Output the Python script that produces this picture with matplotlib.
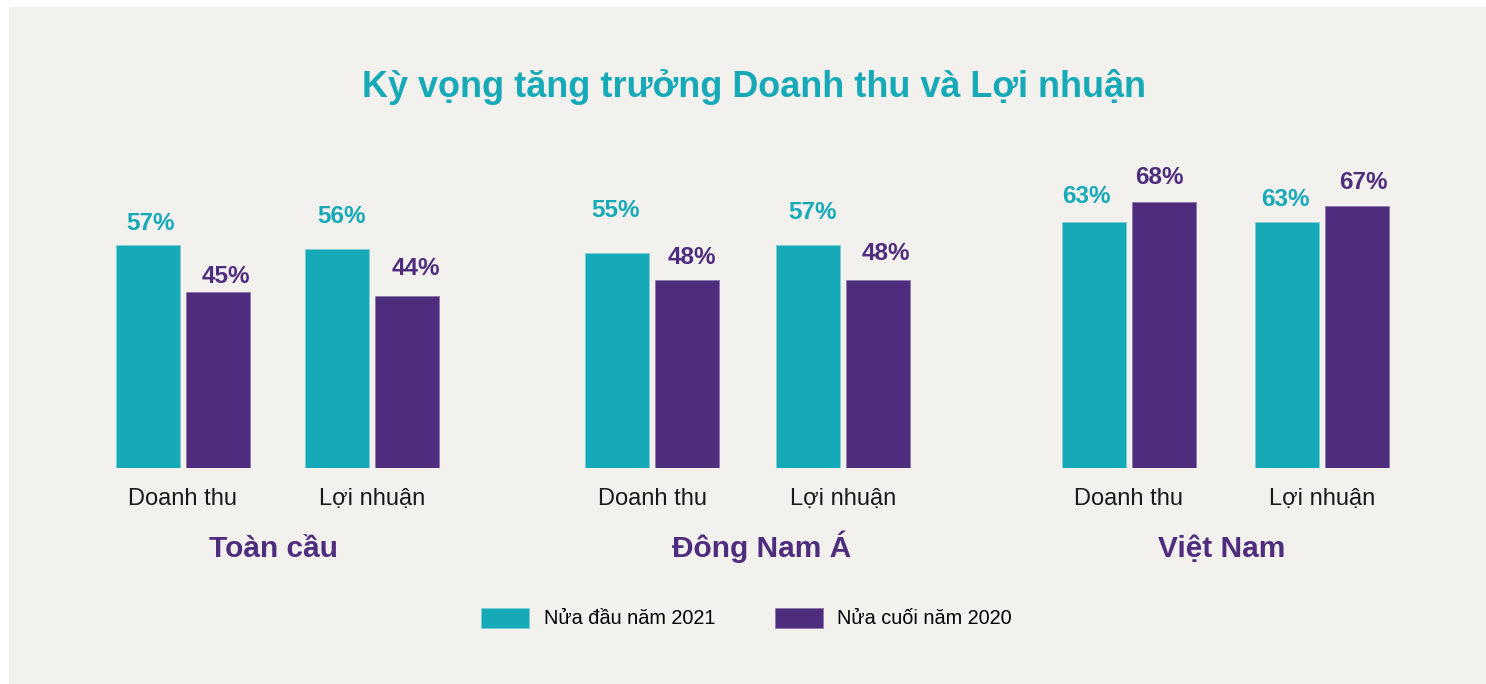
import numpy as np
import matplotlib.pyplot as plt
from matplotlib.patches import Rectangle

plt.rcParams['font.family'] = ['Liberation Sans', 'DejaVu Sans']

title = "Kỳ vọng tăng trưởng Doanh thu và Lợi nhuận"
regions = ["Toàn cầu", "Đông Nam Á", "Việt Nam"]
metrics = ["Doanh thu", "Lợi nhuận"]
series_names = ["Nửa đầu năm 2021", "Nửa cuối năm 2020"]

# values per region, in order: Doanh thu, Lợi nhuận
h1_2021 = [[57, 56], [55, 57], [63, 63]]
h2_2020 = [[45, 44], [48, 48], [68, 67]]

TEAL = "#16a9b8"
PURPLE = "#4f2d7e"
BG = "#f2f1ee"

# value label nudges in points (dx, baseline above bar top), as placed in the original
dx_teal = [[2, 3], [-1, 3], [-5.5, -1.5]]
dy_teal = [[11, 18.5], [26, 19], [13.5, 11]]
dx_purple = [[6, 6.5], [3.5, 6], [-3, 4.5]]
dy_purple = [[6.5, 15], [12, 14.5], [13, 12]]

W, H = 1486, 684
fig = plt.figure(figsize=(W / 100, H / 100), dpi=100)
fig.patch.set_facecolor("white")
fig.patches.append(Rectangle((9 / W, 0), 1, 1 - 7 / H, transform=fig.transFigure,
                             facecolor=BG, edgecolor="none", zorder=-10))

# axes in pixel-like x units, baseline at y=468 px from top
px_per_pct = 3.91
ymax = 80
ax = fig.add_axes([0, (H - 468) / H, 1, ymax * px_per_pct / H])
ax.set_xlim(0, W)
ax.set_ylim(0, ymax)
ax.axis("off")

region_x = [183, 652, 1129]
metric_step = [189, 191, 193]
region_label_nudge = [-4, 14, -4]

bar_w = 64
gap = 6
for i, region in enumerate(regions):
    for j, metric in enumerate(metrics):
        c = region_x[i] + metric_step[i] * j
        x1 = c - gap / 2 - bar_w / 2
        x2 = c + gap / 2 + bar_w / 2
        v1, v2 = h1_2021[i][j], h2_2020[i][j]
        ax.bar(x1, v1, width=bar_w, color=TEAL, edgecolor="#7fcfd6", linewidth=0.6)
        ax.bar(x2, v2, width=bar_w, color=PURPLE, edgecolor="#8f78aa", linewidth=0.6)
        ax.annotate(f"{v1}%", (x1, v1), xytext=(dx_teal[i][j], dy_teal[i][j]),
                    textcoords="offset points", ha="center", va="baseline",
                    fontsize=17.5, fontweight="bold", color=TEAL)
        ax.annotate(f"{v2}%", (x2, v2), xytext=(dx_purple[i][j], dy_purple[i][j]),
                    textcoords="offset points", ha="center", va="baseline",
                    fontsize=17.5, fontweight="bold", color=PURPLE)
        ax.annotate(metric, (c, 0), xytext=(0, -26.6), textcoords="offset points",
                    ha="center", va="baseline", fontsize=17, color="#1a1a1a")
    rc = region_x[i] + metric_step[i] / 2 + region_label_nudge[i]
    ax.annotate(region, (rc, 0), xytext=(0, -64), textcoords="offset points",
                ha="center", va="baseline", fontsize=21.5, fontweight="bold", color=PURPLE)

fig.text(754 / W, 1 - 87 / H, title, ha="center", va="center",
         fontsize=25.9, fontweight="bold", color=TEAL)

handles = [Rectangle((0, 0), 1, 1, facecolor=TEAL, edgecolor="#7fcfd6", linewidth=0.6),
           Rectangle((0, 0), 1, 1, facecolor=PURPLE, edgecolor="#8f78aa", linewidth=0.6)]
fig.legend(handles, series_names, loc="center", bbox_to_anchor=(746.5 / W, 1 - 618 / H),
           ncol=2, frameon=False, fontsize=14.3, handlelength=2.41, handleheight=1.2,
           handletextpad=0.75, columnspacing=3.0)

fig.savefig("out.png", dpi=100, facecolor=fig.get_facecolor())
